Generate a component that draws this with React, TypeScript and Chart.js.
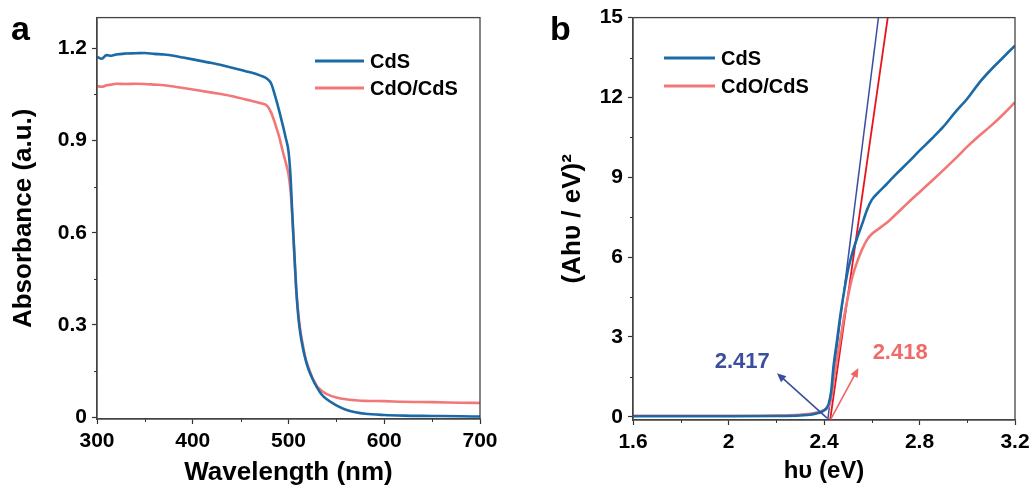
import React, { useEffect, useRef } from 'react';
import { Chart, registerables } from 'chart.js';

Chart.register(...registerables);

// ---------- Panel a: absorbance ----------
const wavelengths = [300, 305, 310, 315, 320, 330, 340, 350, 360, 370, 380, 390, 400, 420, 440, 460, 470, 478, 482, 486, 490, 494, 497, 500, 502, 504, 506, 508, 510, 512, 515, 518, 521, 525, 530, 535, 540, 550, 560, 570, 580, 600, 620, 650, 680, 700];
const absCdS = [1.172, 1.166, 1.178, 1.176, 1.18, 1.183, 1.184, 1.185, 1.182, 1.18, 1.176, 1.17, 1.164, 1.152, 1.138, 1.122, 1.112, 1.1, 1.085, 1.045, 1.0, 0.95, 0.91, 0.865, 0.79, 0.66, 0.54, 0.42, 0.335, 0.28, 0.225, 0.185, 0.155, 0.125, 0.095, 0.072, 0.058, 0.038, 0.024, 0.016, 0.011, 0.007, 0.005, 0.004, 0.003, 0.002];
const absCdOCdS = [1.077, 1.075, 1.08, 1.082, 1.085, 1.084, 1.085, 1.084, 1.082, 1.08, 1.076, 1.071, 1.066, 1.056, 1.045, 1.03, 1.022, 1.012, 0.99, 0.955, 0.915, 0.865, 0.83, 0.79, 0.74, 0.65, 0.53, 0.42, 0.345, 0.29, 0.235, 0.19, 0.16, 0.128, 0.1, 0.085, 0.075, 0.064, 0.058, 0.055, 0.053, 0.052, 0.05, 0.049, 0.047, 0.046];
const xTicksA = [300, 400, 500, 600, 700];
const xMinorA = [350, 450, 550, 650];
const yTicksA = [0, 0.3, 0.6, 0.9, 1.2];
const yMinorA = [0.15, 0.45, 0.75, 1.05];

// ---------- Panel b: Tauc plot ----------
const energies = [1.6, 1.8, 2.0, 2.2, 2.3, 2.35, 2.38, 2.4, 2.41, 2.42, 2.43, 2.44, 2.455, 2.47, 2.485, 2.5, 2.52, 2.54, 2.56, 2.58, 2.6, 2.63, 2.66, 2.7, 2.75, 2.8, 2.85, 2.9, 2.95, 3.0, 3.05, 3.1, 3.15, 3.2];
const taucCdS = [0.02, 0.02, 0.02, 0.03, 0.05, 0.09, 0.15, 0.24, 0.32, 0.5, 0.95, 1.9, 2.9, 3.9, 4.75, 5.5, 6.2, 6.75, 7.25, 7.77, 8.15, 8.45, 8.72, 9.1, 9.54, 10.0, 10.44, 10.9, 11.45, 11.95, 12.55, 13.05, 13.5, 13.95];
const taucCdOCdS = [0.04, 0.04, 0.04, 0.05, 0.08, 0.12, 0.18, 0.25, 0.3, 0.4, 0.7, 1.35, 2.2, 3.0, 3.8, 4.5, 5.3, 5.85, 6.3, 6.65, 6.87, 7.07, 7.27, 7.6, 8.03, 8.44, 8.85, 9.27, 9.7, 10.15, 10.56, 10.94, 11.36, 11.82];
const tangentCdSX = [2.416, 2.628];
const tangentCdSY = [-0.1, 15];
const tangentCdOX = [2.426, 2.667];
const tangentCdOY = [-0.1, 15];
const arrowCdS = [2.413, -0.05, 2.203, 1.64]; // x0, y0, x1, y1
const arrowCdO = [2.428, -0.1, 2.544, 1.83];
const gapLabelCdS = { text: '2.417', x: 2.0575, y: 2.06 };
const gapLabelCdO = { text: '2.418', x: 2.719, y: 2.4 };
const xTicksB = [1.6, 2.0, 2.4, 2.8, 3.2];
const xMinorB = [1.8, 2.2, 2.6, 3.0];
const yTicksB = [0, 3, 6, 9, 12, 15];
const yMinorB = [1.5, 4.5, 7.5, 10.5, 13.5];

const seriesNames = ['CdS', 'CdO/CdS'];
const BLUE = '#1b6aa8';
const PINK = '#f27878';
const TAN_BLUE = '#3b4ea0';
const TAN_RED = '#e8141c';
const FONT = "'Liberation Sans', Arial, sans-serif";

const pts = (xs: number[], ys: number[]) => xs.map((x, i) => ({ x, y: ys[i] }));

type Extra = {
  panel: string;
  xMinor: number[];
  yMinor: number[];
  legend: { x0: number; x1: number; tx: number; y: number[] };
  arrows?: { d: number[]; color: string }[];
  labels?: { text: string; x: number; y: number; color: string }[];
};

const makeExtras = (cfg: Extra) => ({
  id: 'extras' + cfg.panel,
  afterDraw(chart: any) {
    const { ctx, chartArea: a } = chart;
    const xs = chart.scales.x;
    const ys = chart.scales.y;
    ctx.save();
    // frame
    ctx.strokeStyle = '#444';
    ctx.lineWidth = 1.3;
    ctx.strokeRect(a.left, a.top, a.right - a.left, a.bottom - a.top);
    // minor ticks
    ctx.strokeStyle = '#333';
    ctx.lineWidth = 1;
    cfg.xMinor.forEach((v) => {
      const px = Math.round(xs.getPixelForValue(v)) + 0.5;
      ctx.beginPath();
      ctx.moveTo(px, a.bottom);
      ctx.lineTo(px, a.bottom + 3);
      ctx.stroke();
    });
    cfg.yMinor.forEach((v) => {
      const py = Math.round(ys.getPixelForValue(v)) + 0.5;
      ctx.beginPath();
      ctx.moveTo(a.left, py);
      ctx.lineTo(a.left - 3, py);
      ctx.stroke();
    });
    // arrows
    (cfg.arrows || []).forEach(({ d, color }) => {
      const x0 = xs.getPixelForValue(d[0]);
      const y0 = ys.getPixelForValue(d[1]);
      const x1 = xs.getPixelForValue(d[2]);
      const y1 = ys.getPixelForValue(d[3]);
      const ang = Math.atan2(y1 - y0, x1 - x0);
      const hl = 9;
      const hw = 4;
      ctx.strokeStyle = color;
      ctx.fillStyle = color;
      ctx.lineWidth = 1.6;
      ctx.beginPath();
      ctx.moveTo(x0, y0);
      ctx.lineTo(x1 - Math.cos(ang) * hl * 0.8, y1 - Math.sin(ang) * hl * 0.8);
      ctx.stroke();
      ctx.beginPath();
      ctx.moveTo(x1, y1);
      ctx.lineTo(x1 - Math.cos(ang) * hl - Math.sin(ang) * hw, y1 - Math.sin(ang) * hl + Math.cos(ang) * hw);
      ctx.lineTo(x1 - Math.cos(ang) * hl + Math.sin(ang) * hw, y1 - Math.sin(ang) * hl - Math.cos(ang) * hw);
      ctx.closePath();
      ctx.fill();
    });
    // gap labels
    (cfg.labels || []).forEach((l) => {
      ctx.fillStyle = l.color;
      ctx.font = `bold 22px ${FONT}`;
      ctx.textAlign = 'center';
      ctx.textBaseline = 'middle';
      ctx.fillText(l.text, xs.getPixelForValue(l.x), ys.getPixelForValue(l.y));
    });
    // legend
    const cols = [BLUE, PINK];
    seriesNames.forEach((name, i) => {
      const y = cfg.legend.y[i];
      ctx.strokeStyle = cols[i];
      ctx.lineWidth = 3;
      ctx.beginPath();
      ctx.moveTo(cfg.legend.x0, y);
      ctx.lineTo(cfg.legend.x1, y);
      ctx.stroke();
      ctx.fillStyle = '#000';
      ctx.font = `bold 20px ${FONT}`;
      ctx.textAlign = 'left';
      ctx.textBaseline = 'middle';
      ctx.fillText(name, cfg.legend.tx, y + 1);
    });
    // panel letter
    ctx.fillStyle = '#000';
    ctx.font = `bold 34px ${FONT}`;
    ctx.textAlign = 'left';
    ctx.textBaseline = 'alphabetic';
    ctx.fillText(cfg.panel, cfg.panel === 'a' ? 11 : 10, 40);
    ctx.restore();
  },
});

const fmt1 = (v: number) => (Math.abs(v) < 1e-9 ? '0' : String(Number(v.toFixed(1))));

const axisCommon = (title: string, titleSize: number, pad: any, ticks: number[], fmt: (v: number) => string, fit: (s: any) => void, min: number, max: number) => ({
  type: 'linear' as const,
  min,
  max,
  afterBuildTicks: (s: any) => {
    s.ticks = ticks.map((value) => ({ value }));
  },
  afterFit: fit,
  grid: { display: true, drawOnChartArea: false, drawTicks: true, tickLength: 5, tickColor: '#333', tickWidth: 1.2 },
  border: { display: true, color: '#444', width: 1.3 },
  ticks: {
    color: '#000',
    padding: 5,
    font: { family: FONT, size: 21, weight: 'bold' as const },
    callback: (v: any) => fmt(Number(v)),
    autoSkip: false,
    maxRotation: 0,
  },
  title: { display: true, text: title, color: '#000', padding: pad, font: { family: FONT, size: titleSize, weight: 'bold' as const } },
});

export default function App() {
  const refA = useRef<HTMLCanvasElement>(null);
  const refB = useRef<HTMLCanvasElement>(null);

  useEffect(() => {
    const lineDs = (label: string, data: any, color: string, width: number, mono = true) => ({
      label,
      data,
      borderColor: color,
      backgroundColor: color,
      borderWidth: width,
      pointRadius: 0,
      fill: false,
      cubicInterpolationMode: mono ? ('monotone' as const) : ('default' as const),
    });

    const chartA = new Chart(refA.current!, {
      type: 'line',
      data: {
        datasets: [
          lineDs(seriesNames[0], pts(wavelengths, absCdS), BLUE, 2.6),
          lineDs(seriesNames[1], pts(wavelengths, absCdOCdS), PINK, 2.6),
        ],
      },
      options: {
        animation: false,
        responsive: false,
        layout: { padding: { left: 0, top: 17, right: 60, bottom: 0 } },
        plugins: { legend: { display: false }, tooltip: { enabled: false } },
        scales: {
          x: axisCommon('Wavelength (nm)', 26, { top: 0, bottom: 5 }, xTicksA, (v) => String(v), (s) => { s.height = 74; }, 300, 700),
          y: axisCommon('Absorbance (a.u.)', 26, { top: 8, bottom: 0 }, yTicksA, fmt1, (s) => { s.width = 97; }, -0.006, 1.3),
        },
      },
      plugins: [makeExtras({ panel: 'a', xMinor: xMinorA, yMinor: yMinorA, legend: { x0: 315, x1: 364, tx: 370, y: [61, 88] } })],
    });

    const chartB = new Chart(refB.current!, {
      type: 'line',
      data: {
        datasets: [
          lineDs(seriesNames[0], pts(energies, taucCdS), BLUE, 2.6),
          lineDs(seriesNames[1], pts(energies, taucCdOCdS), PINK, 2.6),
          lineDs('tangent CdS', pts(tangentCdSX, tangentCdSY), TAN_BLUE, 1.5, false),
          lineDs('tangent CdO/CdS', pts(tangentCdOX, tangentCdOY), TAN_RED, 1.8, false),
        ],
      },
      options: {
        animation: false,
        responsive: false,
        layout: { padding: { left: 0, top: 17, right: 21, bottom: 0 } },
        plugins: { legend: { display: false }, tooltip: { enabled: false } },
        scales: {
          x: axisCommon('hυ (eV)', 24, { top: 0, bottom: 7 }, xTicksB, fmt1, (s) => { s.height = 73; }, 1.6, 3.2),
          y: axisCommon('(Ahυ / eV)²', 26, { top: 17, bottom: 0 }, yTicksB, (v) => String(v), (s) => { s.width = 93; }, -0.12, 15),
        },
      },
      plugins: [
        makeExtras({
          panel: 'b',
          xMinor: xMinorB,
          yMinor: yMinorB,
          legend: { x0: 124, x1: 175, tx: 181, y: [58, 86] },
          arrows: [
            { d: arrowCdS, color: TAN_BLUE },
            { d: arrowCdO, color: '#f06464' },
          ],
          labels: [
            { ...gapLabelCdS, color: '#3c4e9e' },
            { ...gapLabelCdO, color: '#f06a6a' },
          ],
        }),
      ],
    });

    return () => {
      chartA.destroy();
      chartB.destroy();
    };
  }, []);

  return (
    <div style={{ position: 'absolute', left: 0, top: 0, width: 1036, height: 493, background: '#fff' }}>
      <canvas ref={refA} width={540} height={493} style={{ position: 'absolute', left: 0, top: 0, width: 540, height: 493 }} />
      <canvas ref={refB} width={496} height={493} style={{ position: 'absolute', left: 540, top: 0, width: 496, height: 493 }} />
    </div>
  );
}
